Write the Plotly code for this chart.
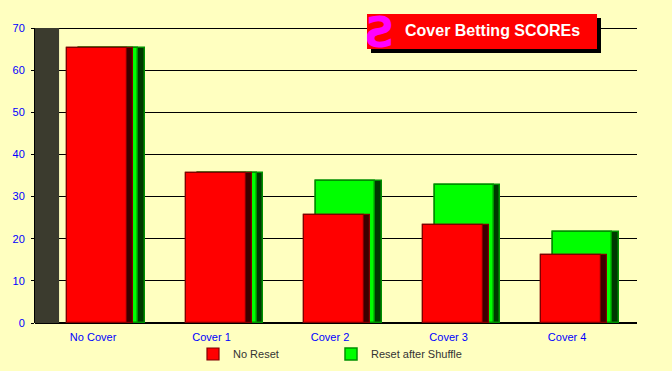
import plotly.graph_objects as go

categories = ["No Cover", "Cover 1", "Cover 2", "Cover 3", "Cover 4"]
no_reset = [65.2, 35.6, 25.6, 23.3, 16.1]
reset_after_shuffle = [65.2, 35.6, 33.7, 32.7, 21.5]
y_ticks = [0, 10, 20, 30, 40, 50, 60, 70]

xs = list(range(len(categories)))
BG = "#ffffc0"

fig = go.Figure()

# green series (behind): full bar (side colour) then front face
fig.add_trace(go.Bar(x=xs, y=reset_after_shuffle, width=0.555, offset=-0.118,
                     marker=dict(color="#003800", line=dict(color="#009000", width=1.5)),
                     showlegend=False, hoverinfo="skip"))
fig.add_trace(go.Bar(x=xs, y=reset_after_shuffle, width=0.50, offset=-0.118,
                     name="Reset after Shuffle",
                     marker=dict(color="#00ff00", line=dict(color="#009000", width=1.5))))
# red series (front)
fig.add_trace(go.Bar(x=xs, y=no_reset, width=0.557, offset=-0.22,
                     marker=dict(color="#3c0000", line=dict(color="#800000", width=1.2)),
                     showlegend=False, hoverinfo="skip"))
fig.add_trace(go.Bar(x=xs, y=no_reset, width=0.507, offset=-0.22,
                     name="No Reset",
                     marker=dict(color="#ff0000", line=dict(color="#800000", width=1.2))))

def px2x(p):
    return (p - 35) / 602.0

def py2y(p):
    return (323 - p) / 295.0

y_top = y_ticks[-1]

shapes = [
    # top gridline (plotly clips gridlines at the range edge)
    dict(type="line", xref="paper", yref="paper", x0=0, x1=1, y0=py2y(28.5), y1=py2y(28.5),
         line=dict(color="#000000", width=1), layer="below"),
    # left 3D wall
    dict(type="rect", xref="x", yref="y", x0=-0.49, x1=-0.287, y0=0, y1=y_top,
         fillcolor="#3b3b2e", line=dict(width=0), layer="above"),
    # title box shadow and box
    dict(type="rect", xref="paper", yref="paper", x0=px2x(371), x1=px2x(601),
         y0=py2y(53), y1=py2y(18), fillcolor="#000000", line=dict(width=0), layer="above"),
    dict(type="rect", xref="paper", yref="paper", x0=px2x(367), x1=px2x(597),
         y0=py2y(49), y1=py2y(14), fillcolor="#ff0000", line=dict(width=0), layer="above"),
]

annotations = [
    dict(xref="paper", yref="paper", x=px2x(492), y=py2y(31), text="<b>Cover Betting SCOREs</b>",
         showarrow=False, font=dict(family="Liberation Sans, Arial", size=16, color="#ffffff"),
         xanchor="center", yanchor="middle"),
    dict(xref="paper", yref="paper", x=px2x(381), y=py2y(32), text="<b>Ƨ</b>",
         showarrow=False, font=dict(family="DejaVu Sans", size=42, color="#ff00ff"),
         xanchor="center", yanchor="middle"),
]

fig.update_layout(
    width=672, height=371,
    margin=dict(l=35, r=35, t=28, b=48, autoexpand=False),
    paper_bgcolor=BG, plot_bgcolor=BG,
    barmode="overlay", bargap=0,
    shapes=shapes, annotations=annotations,
    font=dict(family="Liberation Sans, Arial", size=11),
    legend=dict(orientation="h", xref="container", yref="container",
                x=193 / 672.0, y=1 - 354 / 371.0, xanchor="left", yanchor="middle",
                font=dict(color="#333333", size=11), entrywidth=93, entrywidthmode="pixels",
                traceorder="reversed", bgcolor="rgba(0,0,0,0)"),
    xaxis=dict(range=[-0.49, 4.59], tickvals=xs, ticktext=categories, showgrid=False,
               zeroline=False, showline=False, ticks="outside", ticklen=4, tickcolor=BG,
               tickfont=dict(color="#0000ff", size=11), fixedrange=True, automargin=False),
    yaxis=dict(range=[0, 70], tickvals=y_ticks, showgrid=True, gridcolor="#000000", gridwidth=1,
               zeroline=True, zerolinecolor="#000000", showline=True, linecolor="#000000",
               ticks="outside", ticklen=3, tickcolor="#000000", ticklabelstandoff=4,
               tickfont=dict(color="#0000ff", size=11), fixedrange=True, automargin=False),
)

fig.write_html("out.html")
